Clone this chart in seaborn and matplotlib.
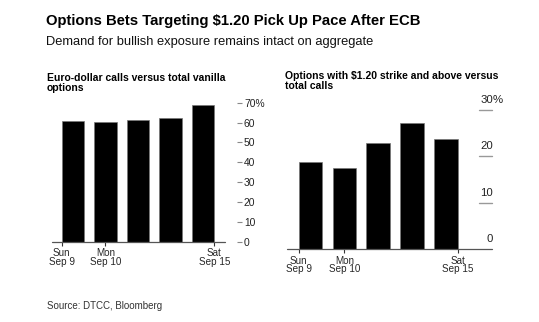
import matplotlib
matplotlib.use("Agg")
import matplotlib.pyplot as plt
import matplotlib.transforms as mtransforms
import seaborn as sns
import pandas as pd

# ---- data ----
days = ["Sep 10", "Sep 11", "Sep 12", "Sep 13", "Sep 14"]
eur_calls_share = [60.8, 60.4, 61.1, 62.1, 68.7]
strike_120_share = [18.7, 17.6, 23.0, 27.3, 23.7]
x_tick_labels = ["Sun\nSep 9", "Mon\nSep 10", "Sat\nSep 15"]
left_yticks = [0, 10, 20, 30, 40, 50, 60, 70]
right_yticks = [0, 10, 20, 30]

title = "Options Bets Targeting $1.20 Pick Up Pace After ECB"
subtitle = "Demand for bullish exposure remains intact on aggregate"
left_title = "Euro-dollar calls versus total vanilla\noptions"
right_title = "Options with $1.20 strike and above versus\ntotal calls"
source = "Source: DTCC, Bloomberg"

sns.set_theme(style="white")
plt.rcParams["font.family"] = ["Liberation Sans", "DejaVu Sans"]

W, H = 539, 322
fig = plt.figure(figsize=(W / 100, H / 100), dpi=100)
fig.patch.set_facecolor("white")

def px_axes(x0, x1, ybot, ytop):
    return fig.add_axes([x0 / W, 1 - ybot / H, (x1 - x0) / W, (ybot - ytop) / H])

df_l = pd.DataFrame({"day": days, "val": eur_calls_share})
df_r = pd.DataFrame({"day": days, "val": strike_120_share})

tick_pos = [-0.35, 1, 4.35]
fs_tick = 7.1

# ---- left chart ----
axl = px_axes(51.7, 237, 241.7, 102.7)
sns.barplot(data=df_l, x="day", y="val", color="black", width=0.7,
            edgecolor="#777777", linewidth=0.5, saturation=1, ax=axl)
axl.set_xlim(-0.655, 5.05)
axl.set_ylim(0, 70)
for s in axl.spines.values():
    s.set_visible(False)
axl.axhline(0, xmin=0, xmax=(225 - 51.7) / (237 - 51.7), color="#555555",
            lw=0.9, clip_on=False)
axl.set_xticks(tick_pos)
axl.set_xticklabels(x_tick_labels, fontsize=fs_tick, linespacing=0.82)
axl.tick_params(axis="x", direction="out", length=3, width=0.8, color="#333333",
                pad=1.5, bottom=True)
axl.yaxis.tick_right()
axl.set_yticks(left_yticks)
axl.set_yticklabels([f"{v}%" if v == left_yticks[-1] else str(v) for v in left_yticks],
                    fontsize=7.4, color="#222222")
axl.tick_params(axis="y", direction="out", length=3.5, width=0.8, color="#888888",
                pad=1.5, right=True, left=False)
axl.set_xlabel("")
axl.set_ylabel("")
axl.set_facecolor("none")

# ---- right chart ----
axr = px_axes(287.3, 492.3, 249.3, 110)
sns.barplot(data=df_r, x="day", y="val", color="black", width=0.7,
            edgecolor="#777777", linewidth=0.5, saturation=1, ax=axr)
axr.set_xlim(-0.69, 5.37)
axr.set_ylim(0, 30)
for s in axr.spines.values():
    s.set_visible(False)
axr.axhline(0, color="#555555", lw=0.9, clip_on=False)
gx0 = (479.3 - 287.3) / (492.3 - 287.3)
for v in right_yticks[1:]:
    axr.axhline(v, xmin=gx0, xmax=1, color="#999999", lw=1.0, clip_on=False)
off = mtransforms.offset_copy(axr.get_yaxis_transform(), fig=fig, x=0.5, y=7.0 * 72 / 100,
                              units="points")
for v in right_yticks:
    axr.text(1.0, v, str(v), ha="right", va="baseline", fontsize=8.2,
             color="#222222", transform=off)
    if v == right_yticks[-1]:
        axr.text(1.0, v, "%", ha="left", va="baseline", fontsize=8.2,
                 color="#222222", transform=off)
axr.set_yticks([])
axr.set_xticks(tick_pos)
axr.set_xticklabels(x_tick_labels, fontsize=fs_tick, linespacing=0.82)
axr.tick_params(axis="x", direction="out", length=3, width=0.8, color="#333333",
                pad=1.5, bottom=True)
axr.set_xlabel("")
axr.set_ylabel("")
axr.set_facecolor("none")

# ---- texts ----
fig.text(45.7 / W, 1 - 25 / H, title, fontsize=10.7, fontweight="bold",
         ha="left", va="baseline", color="black")
fig.text(45.7 / W, 1 - 44.5 / H, subtitle, fontsize=9.3, ha="left",
         va="baseline", color="#111111")
fig.text(46.7 / W, 1 - 90.7 / H, left_title, fontsize=7.5, fontweight="bold",
         ha="left", va="baseline", linespacing=0.98, color="black")
fig.text(284.7 / W, 1 - 89.3 / H, right_title, fontsize=7.5, fontweight="bold",
         ha="left", va="baseline", linespacing=0.98, color="black")
fig.text(47 / W, 1 - 309 / H, source, fontsize=7.0, ha="left",
         va="baseline", color="#333333")

fig.savefig("out.png", dpi=100, facecolor="white")
